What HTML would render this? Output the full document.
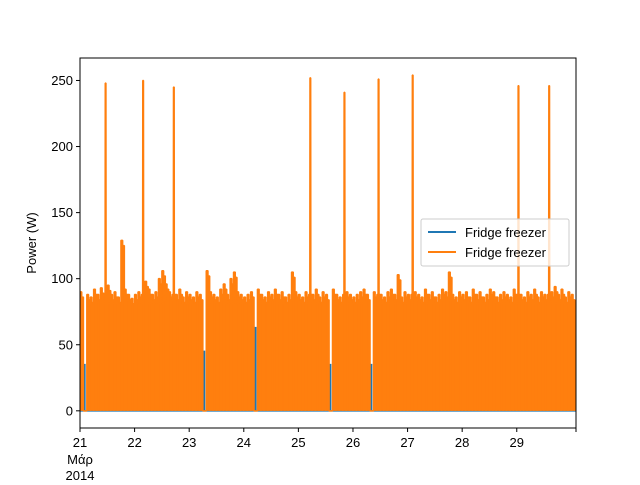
<!DOCTYPE html>
<html><head><meta charset="utf-8"><style>
body{margin:0;background:#fff;}
svg{font-family:"Liberation Sans","DejaVu Sans",sans-serif;}
</style></head><body>
<svg id="chart" width="640" height="480">
<rect width="640" height="480" fill="#fff"/>
<defs><clipPath id="pc"><rect x="80" y="58" width="496" height="370"/></clipPath></defs>
<g id="series" clip-path="url(#pc)"></g>
<rect x="80" y="58" width="496" height="370" fill="none" stroke="#000" stroke-width="1"/>
<g id="axes"></g>
<text x="36" y="243" font-size="13" text-anchor="middle" transform="rotate(-90 36 243)">Power (W)</text>
<g>
<rect x="421" y="219" width="148" height="47" fill="#fff" fill-opacity="0.8" stroke="#ccc" rx="2"/>
<line x1="428" y1="232" x2="456" y2="232" stroke="#1f77b4" stroke-width="2"/>
<text x="465" y="237" font-size="13">Fridge freezer</text>
<line x1="428" y1="252" x2="456" y2="252" stroke="#ff7f0e" stroke-width="2"/>
<text x="465" y="257" font-size="13">Fridge freezer</text>
</g>
</svg>
<script>
const startDay = 21;
const stepDay = 0.0625;
const orangePeaks = [
90,0,88,86,92,88,93,248,95,88,90,86,129,92,88,85,
88,90,250,98,92,88,90,100,106,96,90,245,88,92,86,90,
88,86,90,88,0,106,90,88,86,92,96,88,100,105,90,88,
86,88,90,0,92,88,86,90,88,92,88,90,86,88,105,90,
88,86,90,252,88,92,86,90,88,0,92,88,86,241,90,88,
86,88,90,92,88,0,90,251,88,86,90,92,88,103,86,90,
88,254,90,88,86,92,88,90,86,88,92,90,105,88,86,90,
88,90,86,92,88,90,86,88,92,90,86,88,90,88,86,92,
246,88,86,90,88,92,86,90,88,246,90,94,88,92,86,90,
88];
const blueDays = [21.08, 23.27, 24.21, 25.58, 26.33];
const blueVals = [35, 45, 63, 35, 35];
const yTicks = [0,50,100,150,200,250];
const xTickDays = [21,22,23,24,25,26,27,28,29];
const xTickLabels = ["21","22","23","24","25","26","27","28","29"];

const X0=80, X1=576, Y0=428, Y1=58;
const dMin=21, dMax=30.085;
const yMin=-13, yMax=267;
function xs(d){return X0+(d-dMin)/(dMax-dMin)*(X1-X0);}
function ys(v){return Y0-(v-yMin)/(yMax-yMin)*(Y0-Y1);}
const NS="http://www.w3.org/2000/svg";
const series=document.getElementById('series');
const axes=document.getElementById('axes');

// blue series (mostly hidden beneath orange)
let bp=[];
bp.push([xs(startDay),ys(0)]);
for(let i=0;i<blueDays.length;i++){
  const d=blueDays[i];
  bp.push([xs(d),ys(0)],[xs(d),ys(blueVals[i])],[xs(d+0.01),ys(blueVals[i])],[xs(d+0.01),ys(0)]);
}
bp.push([xs(dMax),ys(0)]);
const bl=document.createElementNS(NS,'polyline');
bl.setAttribute('points',bp.map(p=>p.join(',')).join(' '));
bl.setAttribute('fill','none');bl.setAttribute('stroke','#1f77b4');bl.setAttribute('stroke-width','1.5');


series.appendChild(bl);

// orange series
let op=[];
for(let i=0;i<orangePeaks.length;i++){
  const t=startDay+i*stepDay;
  const v=orangePeaks[i];
  if(v>150){
    op.push([xs(t),ys(0)],[xs(t),ys(88)],[xs(t+stepDay*0.35),ys(88)],[xs(t+stepDay*0.4),ys(v)],[xs(t+stepDay*0.6),ys(v)],[xs(t+stepDay*0.65),ys(88)],[xs(t+stepDay),ys(88)],[xs(t+stepDay),ys(0)]);
  } else if(v===0){
    op.push([xs(t),ys(0)],[xs(t+stepDay*0.6),ys(0)]);
  } else {
    op.push([xs(t),ys(0)],[xs(t),ys(v)],[xs(t+stepDay*0.5),ys(v)],[xs(t+stepDay*0.5),ys(v-4)],[xs(t+stepDay),ys(v-4)],[xs(t+stepDay),ys(0)]);
  }
}
const ol=document.createElementNS(NS,'polyline');
ol.setAttribute('points',op.map(p=>p.map(n=>n.toFixed(2)).join(',')).join(' '));
ol.setAttribute('fill','#ff7f0e');ol.setAttribute('stroke','#ff7f0e');ol.setAttribute('stroke-width','1.5');
ol.setAttribute('stroke-linejoin','bevel');


series.appendChild(ol);

// y ticks
yTicks.forEach(v=>{
  const y=ys(v);
  const l=document.createElementNS(NS,'line');
  l.setAttribute('x1',X0-4);l.setAttribute('x2',X0);l.setAttribute('y1',y);l.setAttribute('y2',y);l.setAttribute('stroke','#000');
  
  
  axes.appendChild(l);
  const t=document.createElementNS(NS,'text');
  t.setAttribute('x',X0-7);t.setAttribute('y',y+4.5);t.setAttribute('font-size','13');t.setAttribute('text-anchor','end');
  t.textContent=v;
  
  
  axes.appendChild(t);
});
// x ticks
xTickDays.forEach((d,i)=>{
  const x=xs(d);
  const l=document.createElementNS(NS,'line');
  l.setAttribute('x1',x);l.setAttribute('x2',x);l.setAttribute('y1',Y0);l.setAttribute('y2',Y0+4);l.setAttribute('stroke','#000');
  
  
  axes.appendChild(l);
  const t=document.createElementNS(NS,'text');
  t.setAttribute('x',x);t.setAttribute('y',Y0+19);t.setAttribute('font-size','13');t.setAttribute('text-anchor','middle');
  t.textContent=xTickLabels[i];
  
  
  axes.appendChild(t);
});
const endTick=document.createElementNS(NS,'line');
endTick.setAttribute('x1',X1);endTick.setAttribute('x2',X1);endTick.setAttribute('y1',Y0);endTick.setAttribute('y2',Y0+4);endTick.setAttribute('stroke','#000');


axes.appendChild(endTick);
['Μάρ','2014'].forEach((s,k)=>{
  const t=document.createElementNS(NS,'text');
  t.setAttribute('x',X0);t.setAttribute('y',Y0+36+k*16);t.setAttribute('font-size','13');t.setAttribute('text-anchor','middle');
  t.textContent=s;
  
  
  axes.appendChild(t);
});
</script>
</body></html>
